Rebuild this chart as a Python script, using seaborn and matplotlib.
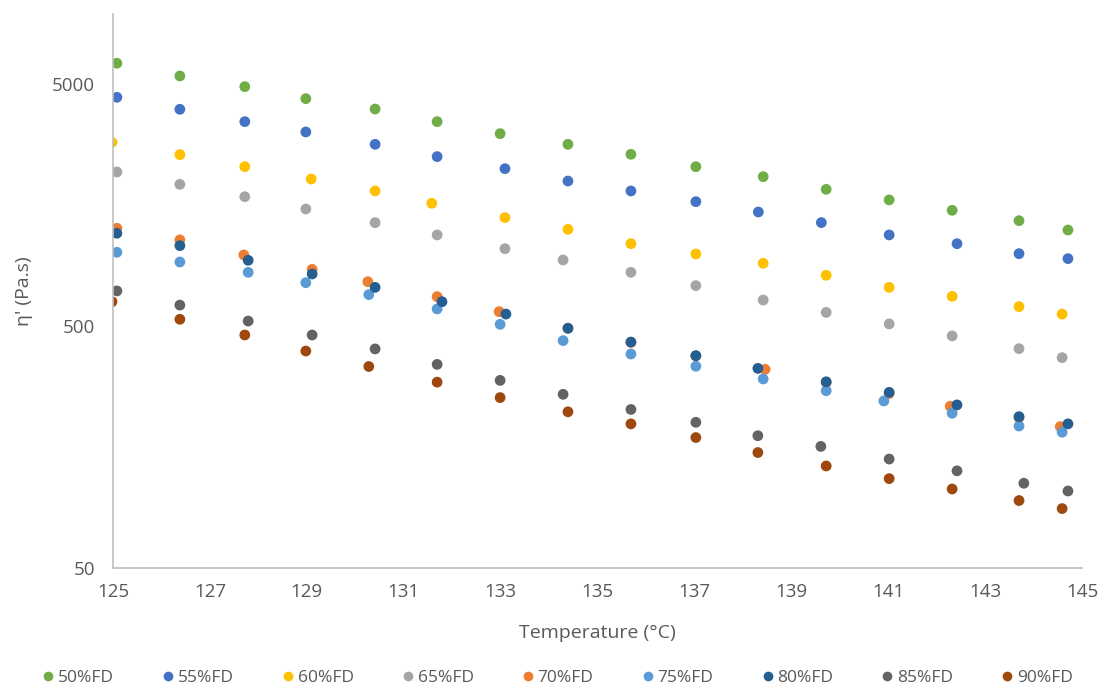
import numpy as np
import pandas as pd
import matplotlib
matplotlib.use("Agg")
import matplotlib.pyplot as plt
import seaborn as sns
from matplotlib.lines import Line2D

# Complex viscosity eta' (Pa.s) versus temperature for each formulation
series_names = ["50%FD", "55%FD", "60%FD", "65%FD", "70%FD",
                "75%FD", "80%FD", "85%FD", "90%FD"]

temp_50 = [125.08, 126.38, 127.72, 128.98, 130.41, 131.69, 132.99, 134.39,
           135.69, 137.03, 138.42, 139.72, 141.02, 142.32, 143.70, 144.71]
visc_50 = [6090, 5395, 4874, 4349, 3940, 3494, 3117, 2816,
           2561, 2276, 2070, 1835, 1659, 1503, 1362, 1246]

temp_55 = [125.08, 126.38, 127.72, 128.98, 130.41, 131.69, 133.09, 134.39,
           135.69, 137.03, 138.32, 139.62, 141.02, 142.42, 143.70, 144.71]
visc_55 = [4405, 3930, 3494, 3168, 2816, 2505, 2234, 1986,
           1807, 1632, 1479, 1337, 1189, 1094, 995, 949]

temp_60 = [124.98, 126.38, 127.72, 129.09, 130.41, 131.58, 133.09, 134.39,
           135.69, 137.03, 138.42, 139.72, 141.02, 142.32, 143.70, 144.59]
visc_60 = [2870, 2553, 2276, 2024, 1807, 1607, 1402, 1254,
           1094, 992, 908, 810, 722, 663, 601, 560]

temp_65 = [125.08, 126.38, 127.72, 128.98, 130.41, 131.69, 133.09, 134.29,
           135.69, 137.03, 138.42, 139.72, 141.02, 142.32, 143.70, 144.59]
visc_65 = [2165, 1924, 1711, 1522, 1337, 1189, 1043, 937,
           833, 734, 640, 569, 510, 455, 403, 370]

temp_70 = [125.08, 126.38, 127.70, 129.11, 130.26, 131.69, 132.97, 134.39,
           135.69, 137.03, 138.46, 139.72, 141.02, 142.28, 143.70, 144.55]
visc_70 = [1267, 1134, 983, 857, 762, 661, 573, 490,
           428, 376, 331, 292, 263, 233, 209, 192]

temp_75 = [125.08, 126.38, 127.79, 128.98, 130.28, 131.69, 132.99, 134.29,
           135.69, 137.03, 138.42, 139.72, 140.91, 142.32, 143.70, 144.59]
visc_75 = [1008, 919, 833, 755, 674, 588, 508, 435,
           383, 341, 302, 270, 245, 218, 193, 182]

temp_80 = [125.08, 126.38, 127.79, 129.11, 130.41, 131.79, 133.11, 134.39,
           135.69, 137.03, 138.31, 139.72, 141.02, 142.42, 143.70, 144.71]
visc_80 = [1208, 1074, 934, 820, 722, 630, 560, 489,
           429, 377, 334, 294, 266, 236, 211, 197]

temp_85 = [125.08, 126.38, 127.79, 129.11, 130.41, 131.69, 132.99, 134.29,
           135.69, 137.03, 138.31, 139.61, 141.02, 142.42, 143.80, 144.71]
visc_85 = [698, 610, 524, 459, 402, 347, 298, 261,
           226, 200, 176, 159, 141, 126, 112, 104]

temp_90 = [124.98, 126.38, 127.72, 128.98, 130.28, 131.69, 132.99, 134.39,
           135.69, 137.03, 138.31, 139.72, 141.02, 142.32, 143.70, 144.59]
visc_90 = [630, 533, 459, 394, 340, 293, 253, 221,
           197, 173, 150, 132, 117, 106, 95, 88]

temps = [temp_50, temp_55, temp_60, temp_65, temp_70,
         temp_75, temp_80, temp_85, temp_90]
viscs = [visc_50, visc_55, visc_60, visc_65, visc_70,
         visc_75, visc_80, visc_85, visc_90]

x_ticks = [125, 127, 129, 131, 133, 135, 137, 139, 141, 143, 145]
y_ticks = [50, 500, 5000]

colors = ["#70AD47", "#4472C4", "#FFC000", "#A5A5A5", "#ED7D31",
          "#5B9BD5", "#255E91", "#636363", "#9E480E"]

df = pd.concat(
    [pd.DataFrame({"Temperature": t, "Viscosity": v, "Series": name})
     for name, t, v in zip(series_names, temps, viscs)],
    ignore_index=True,
)

sns.set_theme(style="white")
plt.rcParams["font.family"] = ["Open Sans", "DejaVu Sans"]

text_color = "#595959"
axis_color = "#BFBFBF"

fig = plt.figure(figsize=(11.05, 6.93), dpi=100)
ax = fig.add_axes([113 / 1105, 1 - 568 / 693, (1082 - 113) / 1105, (568 - 14) / 693])

sns.scatterplot(
    data=df, x="Temperature", y="Viscosity", hue="Series",
    hue_order=series_names, palette=colors, s=60, linewidth=0,
    alpha=1.0, legend=False, ax=ax,
)

ax.set_yscale("log")
ax.set_xlim(125, 145)
ax.set_ylim(50, 9730)
ax.set_xticks(x_ticks)
ax.set_xticklabels([str(v) for v in x_ticks])
ax.set_yticks(y_ticks)
ax.set_yticklabels([str(v) for v in y_ticks])
ax.yaxis.set_minor_locator(matplotlib.ticker.NullLocator())
ax.tick_params(axis="both", length=0, labelsize=13.5, labelcolor=text_color)
ax.tick_params(axis="y", pad=13)
ax.tick_params(axis="x", pad=11)

for side in ["top", "right"]:
    ax.spines[side].set_visible(False)
for side in ["left", "bottom"]:
    ax.spines[side].set_color(axis_color)
    ax.spines[side].set_linewidth(1.2)

ax.set_xlabel("Temperature (°C)", fontsize=14, color=text_color, labelpad=16)
ax.set_ylabel("η' (Pa.s)", fontsize=14, color=text_color)
ax.yaxis.set_label_coords(-0.083, 0.5)

handles = [Line2D([0], [0], marker="o", linestyle="", markersize=7,
                  markerfacecolor=c, markeredgewidth=0)
           for c in colors]
fig.legend(handles, series_names, loc="center", bbox_to_anchor=(0.505, 1 - 678 / 693),
           ncol=9, frameon=False, fontsize=12.5, labelcolor=text_color,
           handletextpad=0.25, columnspacing=2.83, handlelength=0.6)

fig.savefig("out.png", dpi=100, facecolor="white")
